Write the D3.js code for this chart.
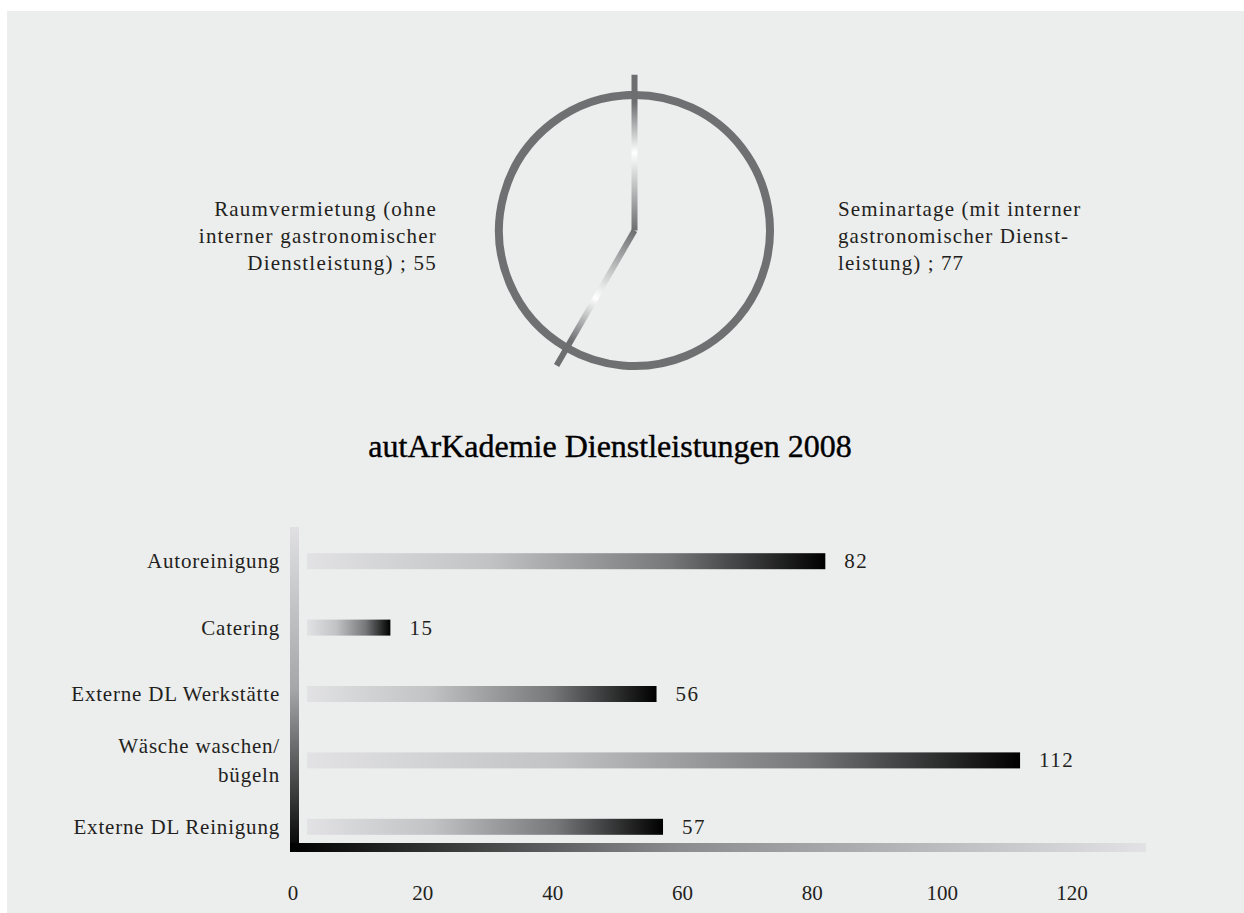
<!DOCTYPE html>
<html><head><meta charset="utf-8">
<script src="https://cdn.jsdelivr.net/npm/d3@7"></script>
<style>
html,body{margin:0;padding:0;background:#fff;}
svg text{font-family:"Liberation Serif","Times New Roman",serif;fill:#231f20;}
</style></head>
<body><svg id="c" width="1244" height="913"></svg>
<script>
// ---- data ----
const pieCategories = ["Seminartage (mit interner\ngastronomischer Dienst-\nleistung)", "Raumvermietung (ohne\ninterner gastronomischer\nDienstleistung)"];
const pieValues = [77, 55];
const title = "autArKademie Dienstleistungen 2008";
const barCategories = ["Autoreinigung", "Catering", "Externe DL Werkstätte", "Wäsche waschen/\nbügeln", "Externe DL Reinigung"];
const barValues = [82, 15, 56, 112, 57];
const xTicks = [0, 20, 40, 60, 80, 100, 120];

const svg = d3.select("#c");
const defs = svg.append("defs");
svg.append("rect").attr("x", 7).attr("y", 11).attr("width", 1237).attr("height", 902).attr("fill", "#eceded");

// ---- pie ----
const cx = 634.5, cy = 230.5, r = 135.5;
const pieG = svg.append("g").attr("transform", `translate(${cx},${cy})`);
const arcs = d3.pie().sort(null).value(d => d)(pieValues);
pieG.selectAll("path.slice").data(arcs).join("path")
  .attr("class", "slice")
  .attr("d", d => d3.arc().innerRadius(r).outerRadius(r)(d))
  .attr("fill", "none").attr("stroke", "#6f7072").attr("stroke-width", 8);

// radial separator lines with gradient
const lineLen = r * 1.15;
arcs.forEach((a, i) => {
  const ang = a.startAngle;
  const x2 = Math.sin(ang) * lineLen, y2 = -Math.cos(ang) * lineLen;
  const gid = "sep" + i;
  const g = defs.append("linearGradient").attr("id", gid)
    .attr("gradientUnits", "userSpaceOnUse")
    .attr("x1", cx).attr("y1", cy).attr("x2", cx + x2).attr("y2", cy + y2);
  g.append("stop").attr("offset", "0%").attr("stop-color", "#6d6e70");
  g.append("stop").attr("offset", "50%").attr("stop-color", "#ffffff");
  g.append("stop").attr("offset", "82%").attr("stop-color", "#6d6e70");
  g.append("stop").attr("offset", "100%").attr("stop-color", "#6d6e70");
  svg.append("line").attr("x1", cx).attr("y1", cy).attr("x2", cx + x2).attr("y2", cy + y2)
    .attr("stroke", `url(#${gid})`).attr("stroke-width", 6);
});

// pie labels
arcs.forEach((a, i) => {
  const mid = (a.startAngle + a.endAngle) / 2;
  const right = Math.sin(mid) > 0;
  const lines = pieCategories[i].split("\n");
  lines[lines.length - 1] += " ; " + pieValues[i];
  const lx = right ? cx + r + 68 : cx - r - 62;
  const t = svg.append("text")
    .attr("x", lx).attr("y", 216)
    .attr("text-anchor", right ? "start" : "end")
    .style("font-size", "21px").style("letter-spacing", right ? "1.1px" : "1.2px");
  lines.forEach((l, j) => t.append("tspan").attr("x", lx).attr("dy", j ? 27 : 0).text(l));
});

// title
svg.append("text").attr("x", 610).attr("y", 457).attr("text-anchor", "middle")
  .style("font-size", "32px").style("fill", "#000").style("stroke", "#000").style("stroke-width", "0.4px")
  .text(title);

// ---- bars ----
const x = d3.scaleLinear().domain([0, 120]).range([293, 1072]);
const y = d3.scaleBand().domain(barCategories).range([528, 860]).padding(0);
const barH = 16;

const bg = defs.append("linearGradient").attr("id", "barGrad").attr("x1", "0").attr("x2", "1").attr("y1", "0").attr("y2", "0");
bg.append("stop").attr("offset", "0%").attr("stop-color", "#e2e2e4");
bg.append("stop").attr("offset", "35%").attr("stop-color", "#c2c3c5");
bg.append("stop").attr("offset", "70%").attr("stop-color", "#77787a");
bg.append("stop").attr("offset", "100%").attr("stop-color", "#000");

const vg = defs.append("linearGradient").attr("id", "vAxis").attr("x1", "0").attr("x2", "0").attr("y1", "0").attr("y2", "1");
vg.append("stop").attr("offset", "0%").attr("stop-color", "#e0e0e2");
vg.append("stop").attr("offset", "50%").attr("stop-color", "#a5a6a8");
vg.append("stop").attr("offset", "100%").attr("stop-color", "#000");
const hg = defs.append("linearGradient").attr("id", "hAxis").attr("x1", "0").attr("x2", "1").attr("y1", "0").attr("y2", "0");
hg.append("stop").attr("offset", "0%").attr("stop-color", "#000");
hg.append("stop").attr("offset", "45%").attr("stop-color", "#8a8b8d");
hg.append("stop").attr("offset", "100%").attr("stop-color", "#e2e2e4");

const x0 = x(0) - 3, axisW = 9, axisBottom = 852, axisTop = 527, axisRight = 1146;
svg.append("rect").attr("x", x0).attr("y", axisTop).attr("width", axisW).attr("height", axisBottom - axisTop).attr("fill", "url(#vAxis)");
svg.append("rect").attr("x", x0).attr("y", axisBottom - axisW).attr("width", axisRight - x0).attr("height", axisW).attr("fill", "url(#hAxis)");

const barStart = x(0) + 14;
svg.selectAll("rect.bar").data(barValues).join("rect").attr("class", "bar")
  .attr("x", barStart)
  .attr("y", (d, i) => y(barCategories[i]) + y.bandwidth() / 2 - barH / 2)
  .attr("width", d => x(d) - barStart)
  .attr("height", barH)
  .attr("fill", "url(#barGrad)");

svg.selectAll("text.val").data(barValues).join("text").attr("class", "val")
  .attr("x", d => x(d) + 19)
  .attr("y", (d, i) => y(barCategories[i]) + y.bandwidth() / 2 + 7)
  .style("font-size", "21px").style("letter-spacing", "1.5px")
  .text(d => d);

barCategories.forEach((c, i) => {
  const lines = c.split("\n");
  const cyb = y(c) + y.bandwidth() / 2;
  const t = svg.append("text").attr("text-anchor", "end").style("font-size", "21px").style("letter-spacing", "0.8px");
  lines.forEach((l, j) => {
    t.append("tspan").attr("x", 280).attr("y", cyb + 7 + (j - (lines.length - 1) / 2) * 29).text(l);
  });
});

svg.selectAll("text.tick").data(xTicks).join("text").attr("class", "tick")
  .attr("x", d => x(d)).attr("y", 900).attr("text-anchor", "middle")
  .style("font-size", "21px")
  .text(d => d);
</script>
</body></html>
